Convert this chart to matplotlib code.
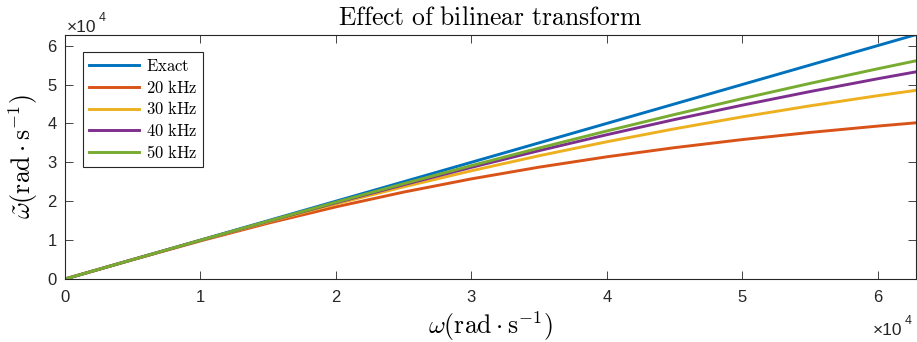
import numpy as np
import matplotlib.pyplot as plt
from matplotlib.ticker import FuncFormatter

plt.rcParams['mathtext.fontset'] = 'cm'
plt.rcParams['font.family'] = 'Liberation Sans'

# analog frequency (rad/s) and warped frequency for each sample rate
w = [0, 5000, 10000, 15000, 20000, 25000, 30000, 35000, 40000,
     45000, 50000, 55000, 60000, 62832]
exact = [0, 5000, 10000, 15000, 20000, 25000, 30000, 35000, 40000,
         45000, 50000, 55000, 60000, 62832]
fs20 = [0, 4974, 9799, 14351, 18546, 22344, 25740, 28753, 31416,
        33766, 35843, 37680, 39312, 40157]
fs30 = [0, 4988, 9909, 14699, 19305, 23687, 27819, 31684, 35280,
        38610, 41684, 44517, 47124, 48507]
fs40 = [0, 4994, 9948, 14828, 19598, 24230, 28702, 32993, 37092,
        40990, 44688, 48183, 51480, 53262]
fs50 = [0, 4996, 9967, 14889, 19740, 24498, 29146, 33667, 38051,
        42285, 46365, 50285, 54042, 56101]

names = ['Exact', '20 kHz', '30 kHz', '40 kHz', '50 kHz']
colors = ['#0072BD', '#D95319', '#EDB120', '#7E2F8E', '#77AC30']
tc = '#262626'

fig = plt.figure(figsize=(9.17, 3.42), dpi=100)
ax = fig.add_axes([0.0709, 0.1842, 0.928, 0.7146])

for ys, name, c in zip([exact, fs20, fs30, fs40, fs50], names, colors):
    ax.plot(w, ys, color=c, lw=2.1, label='$\\mathrm{%s}$' % name.replace(' ', '\\ '))

ax.set_xlim(0, 62832)
ax.set_ylim(0, 62832)
ticks = [0, 10000, 20000, 30000, 40000, 50000, 60000]
ax.set_xticks(ticks)
ax.set_yticks(ticks)
fmt = FuncFormatter(lambda v, p: '%d' % round(v / 1e4))
ax.xaxis.set_major_formatter(fmt)
ax.yaxis.set_major_formatter(fmt)
ax.tick_params(direction='in', top=True, right=True, length=6, width=0.6,
               labelsize=12, colors=tc)
ax.tick_params(axis='x', pad=8)
ax.tick_params(axis='y', pad=6)
for s in ax.spines.values():
    s.set_linewidth(0.8)
    s.set_color(tc)

ax.set_title(r'$\mathrm{Effect\ of\ bilinear\ transform}$', fontsize=18.5, pad=7)
ax.set_xlabel(r'$\omega(\mathrm{rad}\cdot\mathrm{s}^{-1})$', fontsize=18.5, labelpad=3)
ax.set_ylabel(r'$\tilde{\omega}(\mathrm{rad}\cdot\mathrm{s}^{-1})$', fontsize=18.5, labelpad=5)

leg = ax.legend(loc='upper left', bbox_to_anchor=(0.021, 0.929), fontsize=12,
                handlelength=3.0, handletextpad=0.42, labelspacing=0.29,
                borderpad=0.35, borderaxespad=0, fancybox=False, framealpha=1)
leg.get_frame().set_edgecolor(tc)
leg.get_frame().set_linewidth(0.8)

# exponent labels, MATLAB style: "x10" then a raised 4 right after it
fig.canvas.draw()
r = fig.canvas.get_renderer()
for x0, y0 in [(0.073, 0.906), (0.952, 0.0205)]:
    t = fig.text(x0, y0, '×10', fontsize=12.5, color=tc, va='baseline')
    bb = t.get_window_extent(r).transformed(fig.transFigure.inverted())
    fig.text(bb.x1 + 0.002, y0 + 0.032, '4', fontsize=9, color=tc, va='baseline')

fig.savefig('out.png', dpi=100)
